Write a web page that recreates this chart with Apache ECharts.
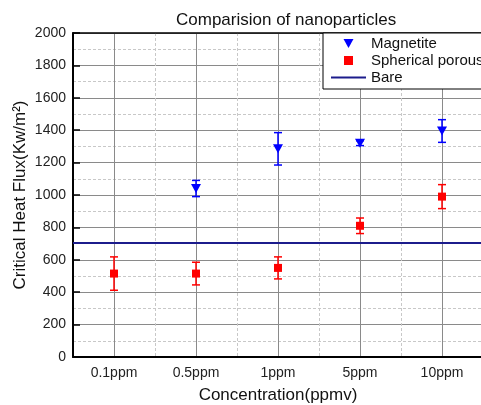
<!DOCTYPE html>
<html>
<head>
<meta charset="utf-8">
<script src="https://cdn.jsdelivr.net/npm/echarts@6/dist/echarts.min.js"></script>
<style>
html, body { margin: 0; padding: 0; background: #fff; }
#chart { width: 481px; height: 405px; }
</style>
</head>
<body>
<div id="chart"></div>
<script>
// values
const categories = ["0.1ppm", "0.5ppm", "1ppm", "5ppm", "10ppm"];
const magnetite = [null, 1040, 1285, 1320, 1395];
const magnetiteErr = [null, 50, 100, 15, 70];
const spherical = [515, 515, 550, 810, 990];
const sphericalErr = [103, 70, 68, 48, 74];
const bare = 705;

const blue = "#0000ff";
const red = "#ff0000";
const navy = "#1c1c8c";
const font = "Liberation Sans, Arial, sans-serif";

function errorData(vals, errs) {
  let out = [];
  vals.forEach((v, i) => {
    if (v != null) out.push([i, v - errs[i], v + errs[i]]);
  });
  return out;
}

function renderErr(params, api) {
  let x = api.value(0);
  let lo = api.coord([x, api.value(1)]);
  let hi = api.coord([x, api.value(2)]);
  let w = 4;
  let style = { stroke: api.visual("color"), lineWidth: 1.5 };
  return {
    type: "group",
    children: [
      { type: "line", shape: { x1: lo[0], y1: lo[1], x2: hi[0], y2: hi[1] }, style: style },
      { type: "line", shape: { x1: lo[0] - w, y1: lo[1], x2: lo[0] + w, y2: lo[1] }, style: style },
      { type: "line", shape: { x1: hi[0] - w, y1: hi[1], x2: hi[0] + w, y2: hi[1] }, style: style },
    ],
  };
}

let chart = echarts.init(document.getElementById("chart"));
let option = {
  animation: false,
  textStyle: { fontFamily: font },
  title: {
    text: "Comparision of nanoparticles",
    left: 176,
    top: 12,
    padding: 0,
    textStyle: { fontSize: 17, fontWeight: "normal", color: "#111", fontFamily: font },
  },
  grid: { left: 73, top: 33, width: 410, height: 324, outerBoundsMode: "none", containLabel: false },
  legend: {
    orient: "vertical",
    left: 323,
    top: 33,
    backgroundColor: "#fff",
    borderColor: "#000",
    borderWidth: 1,
    padding: [3, 40, 4, 8],
    itemWidth: 35,
    itemHeight: 9,
    itemGap: 2,
    z: 10,
    textStyle: { fontSize: 15, color: "#111", fontFamily: font },
    data: [
      { name: "Magnetite", icon: "path://M0,0L10,0L5,9Z" },
      { name: "Spherical porous", icon: "path://M0,0L7,0L7,7L0,7Z" },
      { name: "Bare", icon: "path://M0,0L35,0L35,2L0,2Z" },
    ],
  },
  xAxis: [
    {
      type: "category",
      data: categories,
      boundaryGap: true,
      position: "bottom",
      axisLine: { lineStyle: { color: "#000", width: 2 } },
      axisTick: { inside: true, length: 5, alignWithLabel: true, lineStyle: { color: "#000", width: 1.5 } },
      axisLabel: { fontSize: 14, color: "#222", margin: 9 },
      splitLine: { show: false },
      name: "Concentration(ppmv)",
      nameLocation: "middle",
      nameGap: 30,
      nameMoveOverlap: false,
      nameTextStyle: { fontSize: 17, color: "#111" },
    },
    {
      type: "value",
      position: "top",
      min: 0,
      max: 5,
      interval: 1,
      axisLine: { show: true, lineStyle: { color: "#000", width: 1.5 } },
      axisTick: { show: false },
      axisLabel: { show: false },
      splitLine: { show: true, lineStyle: { color: "#c8c8c8", type: [3, 2], width: 1 } },
      minorTick: { show: false, splitNumber: 2 },
      minorSplitLine: { show: true, lineStyle: { color: "#8a8a8a", width: 1 } },
    },
  ],
  yAxis: {
    type: "value",
    min: 0,
    max: 2000,
    interval: 200,
    axisLine: { show: true, lineStyle: { color: "#000", width: 2 } },
    axisTick: { show: true, inside: true, length: 7, lineStyle: { color: "#000", width: 1.5 } },
    axisLabel: { fontSize: 14, color: "#222", margin: 7, formatter: (v) => String(v) },
    splitLine: { show: true, lineStyle: { color: "#8a8a8a", width: 1 } },
    minorTick: { show: false, splitNumber: 2 },
    minorSplitLine: { show: true, lineStyle: { color: "#c8c8c8", type: [3, 2], width: 1 } },
    name: "Critical Heat Flux(Kw/m²)",
    nameLocation: "middle",
    nameGap: 44,
    nameMoveOverlap: false,
    nameTextStyle: { fontSize: 17, color: "#111" },
  },
  series: [
    {
      name: "Bare",
      type: "line",
      color: navy,
      symbol: "none",
      lineStyle: { color: navy, width: 2 },
      data: [],
      markLine: {
        silent: true,
        symbol: "none",
        label: { show: false },
        lineStyle: { color: navy, width: 2, type: "solid" },
        data: [{ yAxis: bare }],
      },
    },
    {
      name: "Magnetite err",
      type: "custom",
      renderItem: renderErr,
      itemStyle: { color: blue },
      data: errorData(magnetite, magnetiteErr),
      z: 3,
    },
    {
      name: "Spherical err",
      type: "custom",
      renderItem: renderErr,
      itemStyle: { color: red },
      data: errorData(spherical, sphericalErr),
      z: 3,
    },
    {
      name: "Magnetite",
      type: "scatter",
      symbol: "triangle",
      symbolRotate: 180,
      symbolSize: [10, 9],
      itemStyle: { color: blue, opacity: 1 },
      data: magnetite,
      z: 4,
    },
    {
      name: "Spherical porous",
      type: "scatter",
      symbol: "rect",
      symbolSize: 8,
      itemStyle: { color: red, opacity: 1 },
      data: spherical,
      z: 4,
    },
  ],
};
chart.setOption(option);
</script>
</body>
</html>
